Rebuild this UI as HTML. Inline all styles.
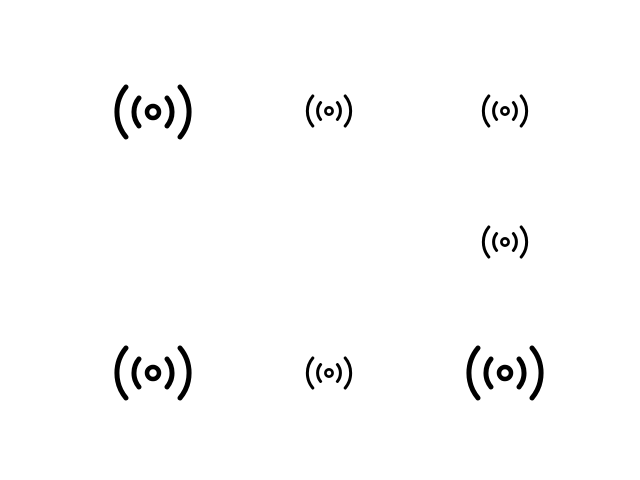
<!DOCTYPE html>
<html><head><style>html,body{margin:0;padding:0;background:#fff;}svg{display:block}</style></head>
<body>
<svg width="640" height="480" viewBox="0 0 640 480" xmlns="http://www.w3.org/2000/svg">
<defs>
<g id="ic" fill="none" stroke="#000" stroke-width="5" stroke-linecap="round">
<path d="M -27 -25 A 39 39 0 0 0 -27 25"/>
<path d="M 27 -25 A 39 39 0 0 1 27 25"/>
<path d="M -14 -14 A 22 22 0 0 0 -14 14"/>
<path d="M 14 -14 A 22 22 0 0 1 14 14"/>
<circle cx="0" cy="0" r="6" stroke-width="4.5"/>
</g>
</defs>
<use href="#ic" transform="translate(153,112)"/>
<use href="#ic" transform="translate(153,373)"/>
<use href="#ic" transform="translate(505,373)"/>
<use href="#ic" transform="translate(329,111) scale(0.6)"/>
<use href="#ic" transform="translate(505,111) scale(0.6)"/>
<use href="#ic" transform="translate(505,242) scale(0.6)"/>
<use href="#ic" transform="translate(329,373) scale(0.6)"/>
</svg>
</body></html>
